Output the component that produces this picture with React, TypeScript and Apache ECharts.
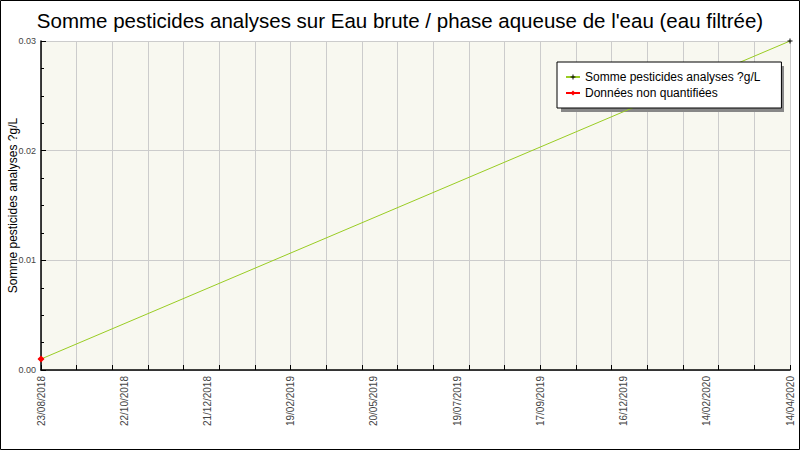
import { useEffect, useRef } from 'react'
import * as echarts from 'echarts'

const dateLabels = [
  '23/08/2018', '22/10/2018', '21/12/2018', '19/02/2019', '20/05/2019',
  '19/07/2019', '17/09/2019', '16/12/2019', '14/02/2020', '14/04/2020',
]
const sommeValues = [0.001, null, null, null, null, null, null, null, null, 0.03]
const nonQuantValues = [0.001, null, null, null, null, null, null, null, null, null]
const yTicks = [0, 0.01, 0.02, 0.03]

const plusSymbol = 'path://M2,0H3V2H5V3H3V5H2V3H0V2H2Z'

export default function App() {
  const chartRef = useRef<HTMLDivElement>(null)

  useEffect(() => {
    document.body.style.margin = '0'
    if (!chartRef.current) return
    const chart = echarts.init(chartRef.current, null, { renderer: 'svg' })

    const option = {
      animation: false,
      backgroundColor: '#ffffff',
      textStyle: { fontFamily: 'Liberation Sans' },
      title: {
        text: "Somme pesticides analyses sur Eau brute / phase aqueuse de l'eau (eau filtrée)",
        left: 'center',
        top: 5,
        textStyle: { fontSize: 20.5, fontWeight: 'normal', color: '#000', fontFamily: 'Liberation Sans' },
      },
      graphic: [
        {
          type: 'rect',
          shape: { x: 0.5, y: 0.5, width: 799, height: 449 },
          style: { fill: 'none', stroke: '#000', lineWidth: 1 },
          z: 100,
        },
        {
          type: 'rect',
          shape: { x: 561, y: 66, width: 223, height: 46 },
          style: { fill: '#888888' },
          z: 3,
        },
      ],
      legend: {
        orient: 'vertical',
        left: 557,
        top: 62,
        padding: [9, 21, 9, 8],
        itemGap: 4,
        itemWidth: 14,
        itemHeight: 6,
        backgroundColor: '#ffffff',
        borderColor: '#000',
        borderWidth: 1,
        borderRadius: 0,
        z: 10,
        textStyle: { fontSize: 12, color: '#000', fontFamily: 'Liberation Sans' },
        data: ['Somme pesticides analyses ?g/L', 'Données non quantifiées'],
      },
      grid: {
        left: 41,
        right: 10,
        top: 41,
        bottom: 80,
        show: true,
        containLabel: false,
        outerBoundsMode: 'none',
        backgroundColor: '#f8f8f0',
        borderWidth: 0,
      },
      xAxis: [
        {
          type: 'category',
          data: dateLabels,
          boundaryGap: false,
          axisLine: { lineStyle: { color: '#000', width: 1.5 } },
          axisTick: { show: false },
          axisLabel: { interval: 0, rotate: 90, fontSize: 10, color: '#444', margin: 6 },
          splitLine: { show: false },
        },
        {
          type: 'value',
          position: 'bottom',
          min: 0,
          max: 21,
          interval: 1,
          axisLine: { show: false },
          axisTick: { show: true, inside: true, length: 5, lineStyle: { color: '#000' } },
          axisLabel: { show: false },
          splitLine: { show: true, lineStyle: { color: '#cccccc' } },
        },
      ],
      yAxis: {
        type: 'value',
        min: yTicks[0],
        max: yTicks[yTicks.length - 1],
        interval: 0.01,
        name: 'Somme pesticides analyses ?g/L',
        nameLocation: 'middle',
        nameGap: 22,
        nameMoveOverlap: false,
        nameTextStyle: { fontSize: 12, color: '#000' },
        axisLine: { show: true, lineStyle: { color: '#000', width: 1.5 } },
        axisTick: { show: true, inside: true, length: 5, lineStyle: { color: '#000' } },
        minorTick: { show: true, splitNumber: 4, length: 3, lineStyle: { color: '#000' } },
        axisLabel: {
          fontSize: 9,
          color: '#444',
          margin: 5,
          formatter: (v: number) => v.toFixed(2),
        },
        splitLine: { show: true, lineStyle: { color: '#cccccc' } },
      },
      series: [
        {
          name: 'Somme pesticides analyses ?g/L',
          type: 'line',
          xAxisIndex: 0,
          data: sommeValues,
          connectNulls: true,
          symbol: plusSymbol,
          symbolSize: 5,
          lineStyle: { color: '#99cc22', width: 1 },
          itemStyle: { color: '#000' },
          z: 3,
        },
        {
          name: 'Données non quantifiées',
          type: 'line',
          xAxisIndex: 0,
          data: nonQuantValues,
          symbol: 'diamond',
          symbolSize: 7,
          lineStyle: { color: '#ff0000', width: 1 },
          itemStyle: { color: '#ff0000' },
          z: 4,
        },
      ],
    }

    chart.setOption(option)
    return () => {
      chart.dispose()
    }
  }, [])

  return <div ref={chartRef} style={{ width: '800px', height: '450px' }} />
}
